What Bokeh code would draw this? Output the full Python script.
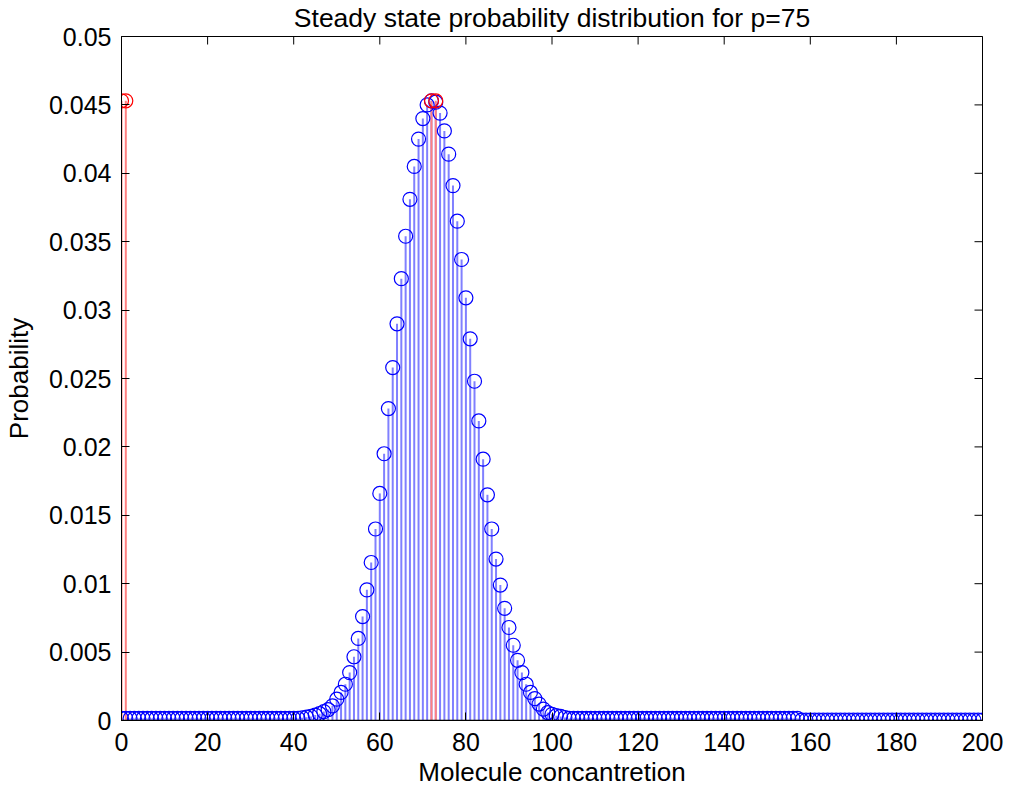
from math import pi
from bokeh.plotting import figure
from bokeh.models import FixedTicker, Span, ColumnDataSource, Range1d
from bokeh.embed import file_html
from bokeh.resources import INLINE

title_text = "Steady state probability distribution for p=75"
x_label = "Molecule concantretion"
y_label = "Probability"

# Molecule concentration (0..200) and read-off steady-state probabilities
concentration = list(range(0, 201))
probability = [
    # 0 - 19
    0.00015, 0.00015, 0.00015, 0.00015, 0.00015, 0.00015, 0.00015, 0.00015, 0.00015, 0.00015,
    0.00015, 0.00015, 0.00015, 0.00015, 0.00015, 0.00015, 0.00015, 0.00015, 0.00015, 0.00015,
    # 20 - 39
    0.00015, 0.00015, 0.00015, 0.00015, 0.00015, 0.00015, 0.00015, 0.00015, 0.00015, 0.00015,
    0.00015, 0.00015, 0.00015, 0.00015, 0.00015, 0.00015, 0.00015, 0.00015, 0.00015, 0.00015,
    # 40 - 59
    0.00015, 0.00015, 0.0002, 0.00024, 0.0003, 0.0004, 0.0005, 0.00065, 0.0008, 0.00107,
    0.00156, 0.00205, 0.00265, 0.0035, 0.00466, 0.006, 0.0076, 0.00955, 0.01155, 0.014,
    # 60 - 79
    0.0166, 0.0195, 0.0228, 0.0258, 0.029, 0.0323, 0.0354, 0.0381, 0.0405, 0.0425,
    0.044, 0.045, 0.0453, 0.0452, 0.0444, 0.0431, 0.0414, 0.0391, 0.0365, 0.0337,
    # 80 - 99
    0.0309, 0.0279, 0.0248, 0.0219, 0.0191, 0.0165, 0.014, 0.0118, 0.0099, 0.0082,
    0.0068, 0.0055, 0.0044, 0.0035, 0.00265, 0.00205, 0.0016, 0.0012, 0.00083, 0.00058,
    # 100 - 119
    0.00045, 0.00035, 0.0003, 0.00022, 0.00015, 0.00015, 0.00015, 0.00015, 0.00015, 0.00015,
    0.00015, 0.00015, 0.00015, 0.00015, 0.00015, 0.00015, 0.00015, 0.00015, 0.00015, 0.00015,
    # 120 - 139
    0.00015, 0.00015, 0.00015, 0.00015, 0.00015, 0.00015, 0.00015, 0.00015, 0.00015, 0.00015,
    0.00015, 0.00015, 0.00015, 0.00015, 0.00015, 0.00015, 0.00015, 0.00015, 0.00015, 0.00015,
    # 140 - 159
    0.00015, 0.00015, 0.00015, 0.00015, 0.00015, 0.00015, 0.00015, 0.00015, 0.00015, 0.00015,
    0.00015, 0.00015, 0.00015, 0.00015, 0.00015, 0.00015, 0.00015, 0.00015, 0.00003, 0.00003,
    # 160 - 179
    0.00003, 0.00003, 0.00003, 0.00003, 0.00003, 0.00003, 0.00003, 0.00003, 0.00003, 0.00003,
    0.00003, 0.00003, 0.00003, 0.00003, 0.00003, 0.00003, 0.00003, 0.00003, 0.00003, 0.00003,
    # 180 - 199
    0.00003, 0.00003, 0.00003, 0.00003, 0.00003, 0.00003, 0.00003, 0.00003, 0.00003, 0.00003,
    0.00003, 0.00003, 0.00003, 0.00003, 0.00003, 0.00003, 0.00003, 0.00003, 0.00003, 0.00003,
    # 200
    0.00003,
]

# Red highlighted stems (maximum probability)
peak_x = [0, 1, 72, 73]
peak_y = [0.0453, 0.0453, 0.0453, 0.0453]

x_ticks = [0, 20, 40, 60, 80, 100, 120, 140, 160, 180, 200]
y_ticks = [0, 0.005, 0.01, 0.015, 0.02, 0.025, 0.03, 0.035, 0.04, 0.045, 0.05]
y_tick_labels = ["0", "0.005", "0.01", "0.015", "0.02", "0.025", "0.03",
                 "0.035", "0.04", "0.045", "0.05"]

X_MIN, X_MAX = x_ticks[0], x_ticks[-1]
Y_MIN, Y_MAX = y_ticks[0], y_ticks[-1]

FONT = "Liberation Sans"

p = figure(width=1005, height=794, x_range=Range1d(X_MIN, X_MAX),
           y_range=Range1d(Y_MIN, Y_MAX),
           output_backend="svg", toolbar_location=None, title=title_text,
           min_border_left=114, min_border_right=23, min_border_top=36,
           min_border_bottom=74)

p.background_fill_color = "white"
p.border_fill_color = "white"
p.outline_line_color = "black"
p.outline_line_width = 1
p.xgrid.visible = False
p.ygrid.visible = False

p.title.text_font = FONT
p.title.text_font_size = "26.5px"
p.title.text_font_style = "normal"
p.title.text_color = "black"
p.title.align = "center"
p.title.vertical_align = "top"
p.title.standoff = 4

for ax in (p.xaxis[0], p.yaxis[0]):
    ax.major_tick_in = 8
    ax.major_tick_out = 0
    ax.minor_tick_line_color = None
    ax.axis_line_color = "black"
    ax.major_tick_line_color = "black"
    ax.major_label_text_font = FONT
    ax.major_label_text_font_size = "25px"
    ax.major_label_text_color = "black"
    ax.axis_label_text_font = FONT
    ax.axis_label_text_font_size = "26px"
    ax.axis_label_text_font_style = "normal"
    ax.axis_label_text_color = "black"

p.xaxis[0].ticker = FixedTicker(ticks=x_ticks)
p.xaxis[0].axis_label = x_label
p.xaxis[0].major_label_standoff = 12
p.xaxis[0].axis_label_standoff = 3

p.yaxis[0].ticker = FixedTicker(ticks=y_ticks)
p.yaxis[0].major_label_overrides = {t: l for t, l in zip(y_ticks, y_tick_labels)}
p.yaxis[0].axis_label = y_label
p.yaxis[0].major_label_standoff = 10
p.yaxis[0].axis_label_standoff = 12

src = ColumnDataSource(dict(x=concentration, y=probability))
peak_src = ColumnDataSource(dict(x=peak_x, y=peak_y))

p.segment(x0="x", y0=0, x1="x", y1="y", source=src, line_color="#8080ff", line_width=2)
p.segment(x0="x", y0=0, x1="x", y1="y", source=peak_src, line_color="#ff8080", line_width=2)

p.add_layout(Span(location=0, dimension="width", line_color="black", line_width=1.5))

p.scatter("x", "y", source=src, marker="circle", size=14, fill_color=None,
          line_color="#0000ff", line_width=1.2)
p.scatter("x", "y", source=peak_src, marker="circle", size=14, fill_color=None,
          line_color="#ff0000", line_width=1.2)

# box ticks on the top and right edges (half of each dash is clipped by the frame)
p.scatter(x=x_ticks, y=[Y_MAX] * len(x_ticks), marker="dash", angle=pi / 2, size=16,
          line_color="black", line_width=1)
p.scatter(x=[X_MAX] * len(y_ticks), y=y_ticks, marker="dash", size=16,
          line_color="black", line_width=1)

open("out.html", "w").write(file_html(p, INLINE))
